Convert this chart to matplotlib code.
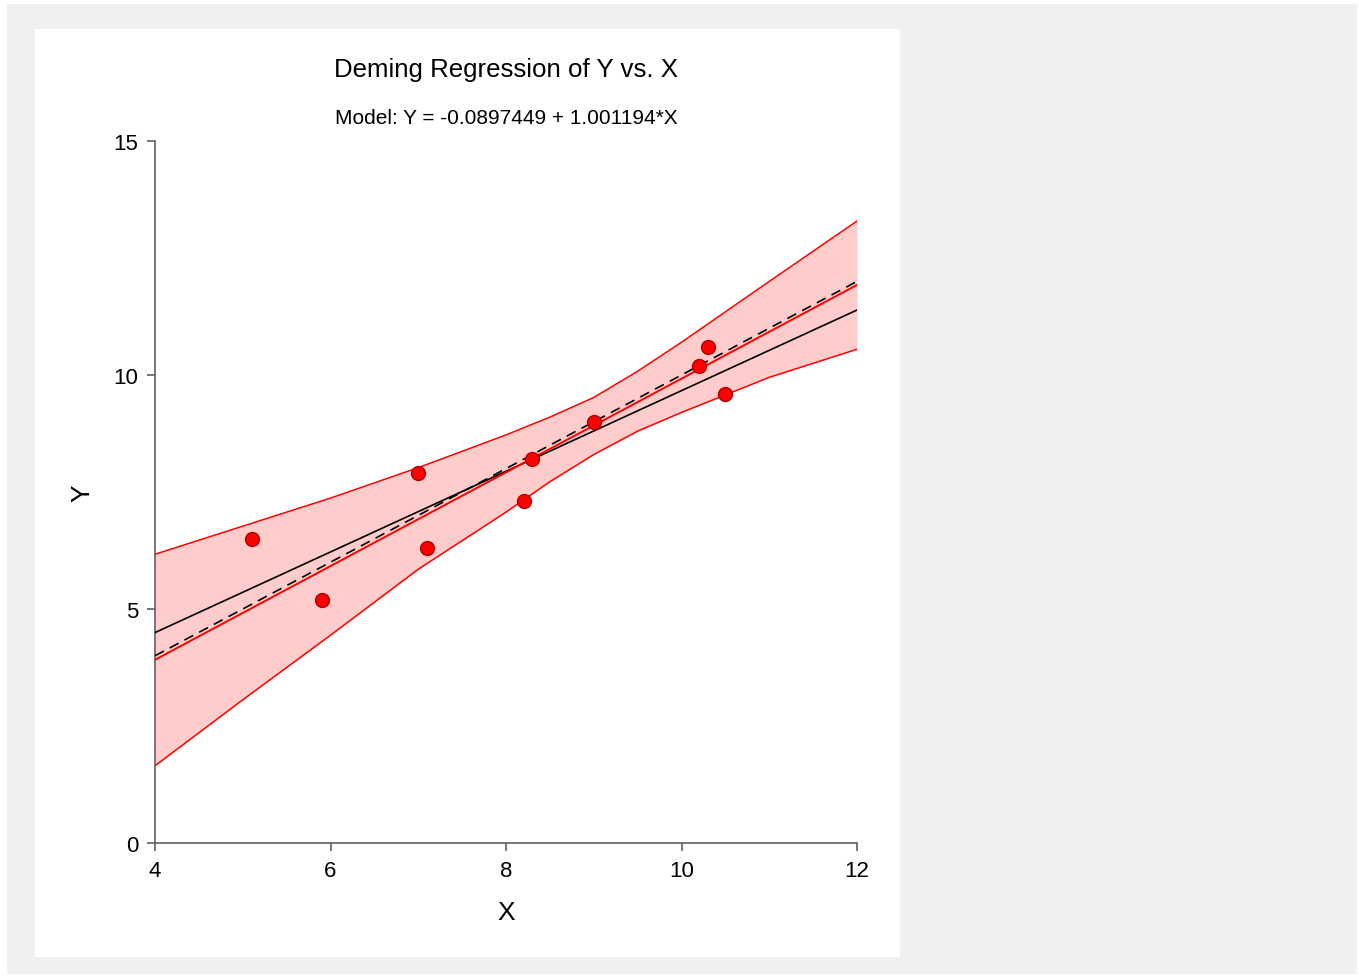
import numpy as np
import matplotlib.pyplot as plt
from matplotlib.patches import Rectangle

plt.rcParams['font.family'] = ['Liberation Sans', 'DejaVu Sans']

# observed data
x_obs = [5.1, 5.9, 7.0, 7.1, 8.2, 8.3, 9.0, 10.2, 10.3, 10.5]
y_obs = [6.5, 5.2, 7.9, 6.3, 7.3, 8.2, 9.0, 10.2, 10.6, 9.6]

# Deming fit (from the model line in the subtitle)
deming_b0 = -0.0897449
deming_b1 = 1.001194

# confidence band
band_x = [4, 5, 6, 7, 8, 8.5, 9, 9.5, 10, 11, 12]
band_lo = [1.65, 3.06, 4.44, 5.85, 7.07, 7.72, 8.30, 8.80, 9.20, 9.95, 10.55]
band_hi = [6.17, 6.77, 7.37, 8.02, 8.72, 9.10, 9.52, 10.08, 10.70, 12.00, 13.29]

x_ticks = [4, 6, 8, 10, 12]
y_ticks = [0, 5, 10, 15]

W, H = 1359, 978
fig = plt.figure(figsize=(W / 100, H / 100), dpi=100, facecolor='white')

# grey frame and white panel behind the plot
fig.patches.append(Rectangle((7 / W, 1 - 975 / H), 1350 / W, 970 / H,
                             transform=fig.transFigure, facecolor='#f0f0f0',
                             edgecolor='none', zorder=-2))
fig.patches.append(Rectangle((35 / W, 1 - 958 / H), 865 / W, 928 / H,
                             transform=fig.transFigure, facecolor='white',
                             edgecolor='none', zorder=-1))

ax = fig.add_axes((155 / W, 1 - 844 / H, 702 / W, 702 / H))
ax.set_facecolor('none')

xs = np.array([4.0, 12.0])

# band
ax.fill_between(band_x, band_lo, band_hi, color='#ffcccc', lw=0, zorder=1)
ax.plot(band_x, band_lo, color='#ff0000', lw=1.1, zorder=2)
ax.plot(band_x, band_hi, color='#ff0000', lw=1.1, zorder=2)

# OLS line
b1, b0 = np.polyfit(x_obs, y_obs, 1)
ax.plot(xs, b0 + b1 * xs, color='black', lw=1.2, zorder=3)
# identity line
ax.plot(xs, xs, color='black', lw=1.2, ls=(0, (6, 4)), zorder=3)
# Deming line
ax.plot(xs, deming_b0 + deming_b1 * xs, color='#ff0000', lw=1.4, zorder=3)

ax.plot(x_obs, y_obs, 'o', ms=10, mfc='#ff0000', mec='#b00000', mew=1, zorder=4)

ax.set_xlim(4, 12)
ax.set_ylim(0, 15)
ax.set_xticks(x_ticks)
ax.set_yticks(y_ticks)
for s in ['top', 'right']:
    ax.spines[s].set_visible(False)
for s in ['left', 'bottom']:
    ax.spines[s].set_color('#606060')
    ax.spines[s].set_linewidth(1.2)
ax.tick_params(direction='out', length=6, width=1.2, color='#606060',
               labelsize=16, pad=6)
ax.set_xlabel('X', fontsize=19, labelpad=14)
ax.set_ylabel('Y', fontsize=19, labelpad=14)

fig.text(506 / W, 1 - 70 / H, 'Deming Regression of Y vs. X', fontsize=18.6,
         ha='center', va='center')
fig.text(506 / W, 1 - 118 / H, 'Model: Y = -0.0897449 + 1.001194*X', fontsize=15,
         ha='center', va='center')

fig.savefig('out.png', dpi=100, facecolor=fig.get_facecolor())
